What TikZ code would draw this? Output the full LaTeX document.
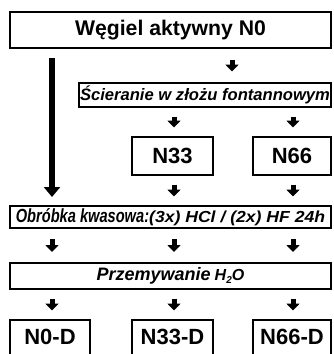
\documentclass[tikz,border=0pt]{standalone}
\usepackage{fontspec}
\usepackage{graphicx}
\setmainfont{Liberation Sans}
\usetikzlibrary{arrows.meta}
\begin{document}
\begin{tikzpicture}[x=1pt,y=-1pt,
  box/.style={draw, line width=1.6pt, inner sep=0pt, outer sep=0pt, anchor=north west},
  thickbox/.style={box, line width=2.3pt},
  openbox/.style={inner sep=0pt, outer sep=0pt, anchor=north west},
  arr/.style={line width=5pt, -{Triangle[width=13pt,length=7pt]}, shorten <=#1, shorten >=#1},
  longarr/.style={line width=6pt, -{Triangle[width=16pt,length=10pt]}, shorten <=10pt, shorten >=9pt},
  bigtxt/.style={font=\fontsize{22}{24}\selectfont\bfseries},
  midtxt/.style={font=\fontsize{16.6}{19}\selectfont\bfseries\itshape}
]
\useasboundingbox (0,0) rectangle (333,354);
\fill[white] (0,0) rectangle (333,354);

\coordinate (c0) at (52,0);
\coordinate (c1) at (174,0);
\coordinate (c2) at (293,0);
\coordinate (ca) at (232,0);

\node[thickbox, minimum width=321pt, minimum height=36pt,
      font=\fontsize{21.2}{24}\selectfont\bfseries] (top) at (10,12) {Węgiel aktywny N0};
\node[box, minimum width=252pt, minimum height=24pt, midtxt] (sc) at (79,83) {Ścieranie w złożu fontannowym};
\node[thickbox, minimum width=81pt, minimum height=38pt, bigtxt] (n33) at (132,137) {N33};
\node[thickbox, minimum width=78pt, minimum height=38pt, bigtxt] (n66) at (253,137) {N66};
\node[box, minimum width=321pt, minimum height=22pt] (ob) at (10,206)
  {{\fontsize{19}{20}\selectfont\bfseries\itshape\scalebox{0.77}[1]{Obróbka kwasowa:}}{\fontsize{16}{18}\selectfont\bfseries\itshape\scalebox{1.1}[1]{(3x) HCl / (2x) HF 24h}}};
\node[box, minimum width=321pt, minimum height=26pt] (pr) at (10,263)
  {{\fontsize{18}{20}\selectfont\bfseries\itshape Przemywanie\hspace{4pt}{\fontsize{16}{17}\selectfont H{\fontsize{10}{11}\selectfont\raisebox{-2.5pt}{2}}O}}};
\node[openbox, minimum width=80pt, minimum height=34pt, bigtxt] (n0d) at (10,320) {N0-D};
\node[openbox, minimum width=81pt, minimum height=34pt, bigtxt] (n33d) at (132,320) {N33-D};
\node[openbox, minimum width=78pt, minimum height=34pt, bigtxt] (n66d) at (253,320) {N66-D};
\foreach \n in {n0d,n33d,n66d}
  \draw[line width=2.3pt] (\n.south west) |- (\n.north east) -- (\n.south east);

\draw[arr=11.5pt] (top.south -| ca) -- (sc.north -| ca);
\draw[arr=9.5pt] (sc.south -| c1) -- (n33.north -| c1);
\draw[arr=9.5pt] (sc.south -| c2) -- (n66.north -| c2);
\draw[longarr] (top.south -| c0) -- (ob.north -| c0);
\draw[arr=9.5pt] (n33.south -| c1) -- (ob.north -| c1);
\draw[arr=9.5pt] (n66.south -| c2) -- (ob.north -| c2);
\draw[arr=11pt] (ob.south -| c0) -- (pr.north -| c0);
\draw[arr=11pt] (ob.south -| c1) -- (pr.north -| c1);
\draw[arr=11pt] (ob.south -| c2) -- (pr.north -| c2);
\draw[arr=9.5pt] (pr.south -| c0) -- (n0d.north -| c0);
\draw[arr=9.5pt] (pr.south -| c1) -- (n33d.north -| c1);
\draw[arr=9.5pt] (pr.south -| c2) -- (n66d.north -| c2);
\end{tikzpicture}
\end{document}
